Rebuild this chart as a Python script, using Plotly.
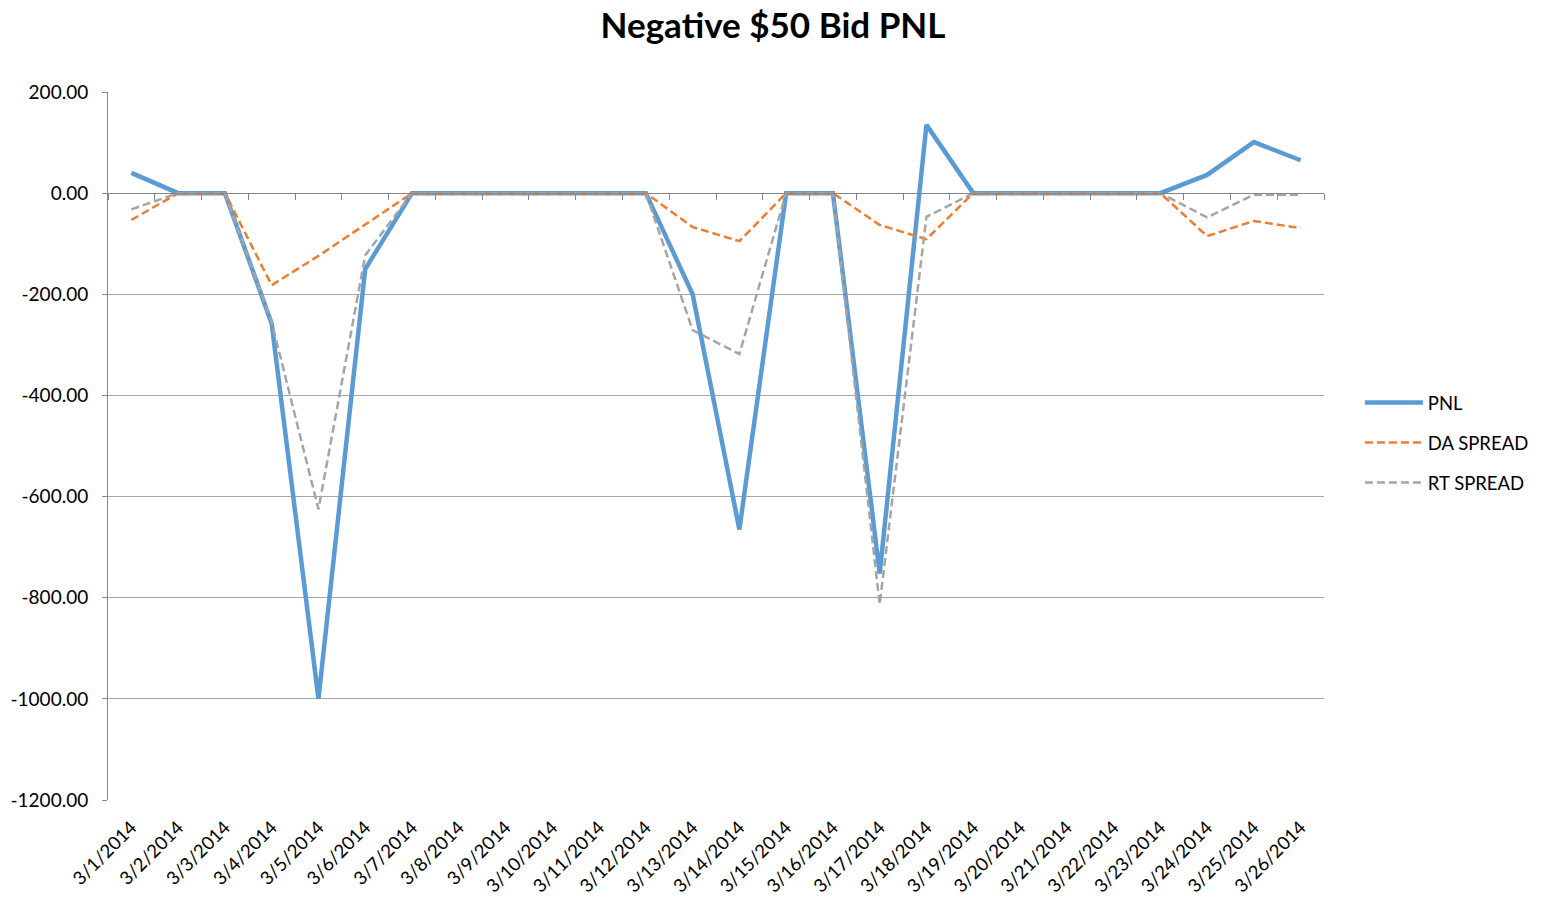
import plotly.graph_objects as go

dates = ["3/1/2014", "3/2/2014", "3/3/2014", "3/4/2014", "3/5/2014", "3/6/2014", "3/7/2014",
         "3/8/2014", "3/9/2014", "3/10/2014", "3/11/2014", "3/12/2014", "3/13/2014",
         "3/14/2014", "3/15/2014", "3/16/2014", "3/17/2014", "3/18/2014", "3/19/2014",
         "3/20/2014", "3/21/2014", "3/22/2014", "3/23/2014", "3/24/2014", "3/25/2014",
         "3/26/2014"]

pnl = [40, 0, 0, -258, -1000, -150, 0, 0, 0, 0, 0, 0, -200, -665, 0, 0, -752, 135,
       0, 0, 0, 0, 0, 36, 101, 65]
da_spread = [-53, 0, 0, -182, -124, -62, 0, 0, 0, 0, 0, 0, -67, -95, 0, 0, -63, -91,
             0, 0, 0, 0, 0, -85, -55, -69]
rt_spread = [-32, 0, 0, -255, -625, -123, 0, 0, 0, 0, 0, 0, -271, -318, 0, 0, -813, -47,
             0, 0, 0, 0, 0, -48, -3, -3]

y_ticks = [200, 0, -200, -400, -600, -800, -1000, -1200]
y_tick_labels = ["200.00", "0.00", "-200.00", "-400.00", "-600.00", "-800.00", "-1000.00", "-1200.00"]

FONT = "Lato"
y_min, y_max = -1200, 200

fig = go.Figure()
fig.add_trace(go.Scatter(x=dates, y=pnl, name="PNL", mode="lines", legend="legend",
                         line=dict(color="#5B9BD5", width=4.5)))
fig.add_trace(go.Scatter(x=dates, y=da_spread, name="DA SPREAD", mode="lines", legend="legend2",
                         line=dict(color="#ED7D31", width=2.5, dash="8px,4px")))
fig.add_trace(go.Scatter(x=dates, y=rt_spread, name="RT SPREAD", mode="lines", legend="legend3",
                         line=dict(color="#A5A5A5", width=2.5, dash="8px,4px")))
# invisible trace to carry the zero-crossing category axis
fig.add_trace(go.Scatter(x=dates, y=[0] * len(dates), xaxis="x2", mode="lines",
                         line=dict(width=0), showlegend=False, hoverinfo="skip"))

leg_common = dict(x=1.0295, xanchor="left", yanchor="middle",
                  font=dict(size=18.5, family=FONT, color="black"),
                  itemwidth=58, bgcolor="rgba(0,0,0,0)")

fig.update_layout(
    width=1546, height=911,
    paper_bgcolor="white", plot_bgcolor="white",
    margin=dict(l=108, r=217, t=92, b=111),
    title=dict(text="<b>Negative $50 Bid PNL</b>", x=0.5, xanchor="center", xref="container",
               y=1 - 26 / 911, yanchor="middle", font=dict(family=FONT, size=35, color="black")),
    font=dict(family=FONT, color="black"),
    xaxis=dict(type="category", categoryorder="array", categoryarray=dates,
               range=[-0.5, len(dates) - 0.5], automargin=False,
               tickangle=-45, tickfont=dict(size=18.5, family=FONT, color="black"),
               ticklabelstandoff=12,
               showgrid=False, showline=False, ticks="", zeroline=False),
    xaxis2=dict(type="category", categoryorder="array", categoryarray=dates,
                range=[-0.5, len(dates) - 0.5], overlaying="x", anchor="free",
                position=(0 - y_min) / (y_max - y_min), side="bottom",
                showticklabels=False, showgrid=False, showline=True,
                linecolor="#868686", linewidth=1, ticks="outside", tickson="boundaries",
                ticklen=6, tickcolor="#868686", zeroline=False),
    yaxis=dict(range=[y_min, y_max], tickvals=y_ticks, ticktext=y_tick_labels,
               tickfont=dict(size=19, family=FONT, color="black"), automargin=False,
               ticklabelstandoff=10,
               showgrid=True, gridcolor="#A6A6A6", gridwidth=1,
               showline=True, linecolor="#868686", linewidth=1,
               ticks="outside", ticklen=5, tickcolor="#868686", zeroline=False),
    legend=dict(y=(800 - 403) / 708, **leg_common),
    legend2=dict(y=(800 - 443) / 708, **leg_common),
    legend3=dict(y=(800 - 483) / 708, **leg_common),
    showlegend=True,
)

fig.write_html("out.html", config={"displayModeBar": False},
               post_script="document.body.style.margin='0';document.body.style.overflow='hidden';")
